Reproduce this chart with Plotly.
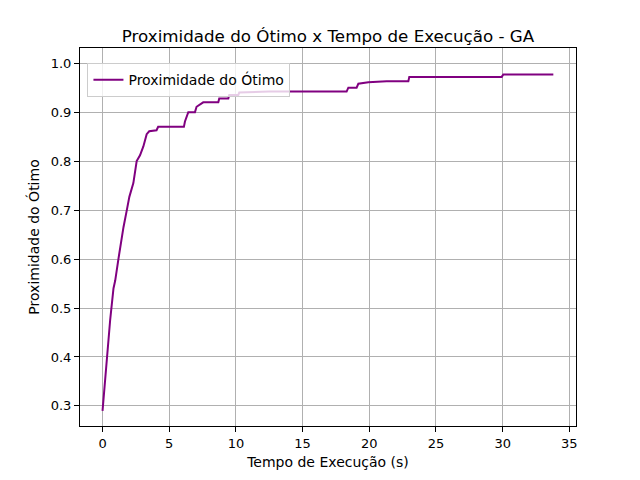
import plotly.graph_objects as go

# tempo de execucao (s) e proximidade do otimo
tempo = [0, 0.32, 0.57, 0.82, 0.95, 1.19, 1.44, 1.57, 1.82, 2.01, 2.31, 2.56, 2.81, 3.06,
         3.31, 3.5, 4.05, 4.17, 6.1, 6.18, 6.43, 6.93, 7.05, 7.55, 8.68, 8.75, 9.43, 9.5,
         10.18, 10.25, 12.5, 18.3, 18.43, 19.05, 19.18, 19.93, 21.3, 22.93, 23.0, 29.93,
         30.05, 33.8]
proximidade = [0.29, 0.40, 0.475, 0.54, 0.556, 0.60, 0.645, 0.665, 0.70, 0.727, 0.755, 0.80,
               0.812, 0.83, 0.855, 0.861, 0.863, 0.87, 0.87, 0.881, 0.90, 0.90, 0.911, 0.92,
               0.92, 0.928, 0.928, 0.935, 0.935, 0.94, 0.942, 0.942, 0.95, 0.95, 0.958, 0.961,
               0.963, 0.963, 0.972, 0.972, 0.977, 0.977]

fig = go.Figure()
fig.add_trace(go.Scatter(x=tempo, y=proximidade, mode='lines', name='Proximidade do Ótimo',
                         line=dict(color='purple', width=2)))

eixo = dict(showline=True, linecolor='black', linewidth=1, mirror=True,
            ticks='outside', ticklen=5, tickcolor='black',
            showgrid=True, gridcolor='#b0b0b0', gridwidth=1, zeroline=False,
            tickfont=dict(size=13, color='black'))

fig.update_layout(
    width=640, height=480,
    paper_bgcolor='white', plot_bgcolor='white',
    font=dict(family='DejaVu Sans', color='black'),
    margin=dict(l=72, r=72, t=40, b=62),
    title=dict(text='Proximidade do Ótimo x Tempo de Execução - GA', x=0.5, xanchor='center',
               xref='paper', yref='paper', y=1, yanchor='bottom', pad=dict(b=6),
               font=dict(size=16.7)),
    xaxis=dict(eixo, range=[-1.69, 35.5], tickvals=[0, 5, 10, 15, 20, 25, 30, 35],
               title=dict(text='Tempo de Execução (s)', font=dict(size=14), standoff=7)),
    yaxis=dict(eixo, range=[0.259, 1.031], tickvals=[0.3, 0.4, 0.5, 0.6, 0.7, 0.8, 0.9, 1.0],
               tickformat='.1f',
               title=dict(text='Proximidade do Ótimo', font=dict(size=14), standoff=7)),
    showlegend=True,
    legend=dict(x=0.015, y=0.96, xanchor='left', yanchor='top',
                bgcolor='rgba(255,255,255,0.8)', bordercolor='#cccccc', borderwidth=1,
                font=dict(size=14)),
)

fig.write_html("out.html")
